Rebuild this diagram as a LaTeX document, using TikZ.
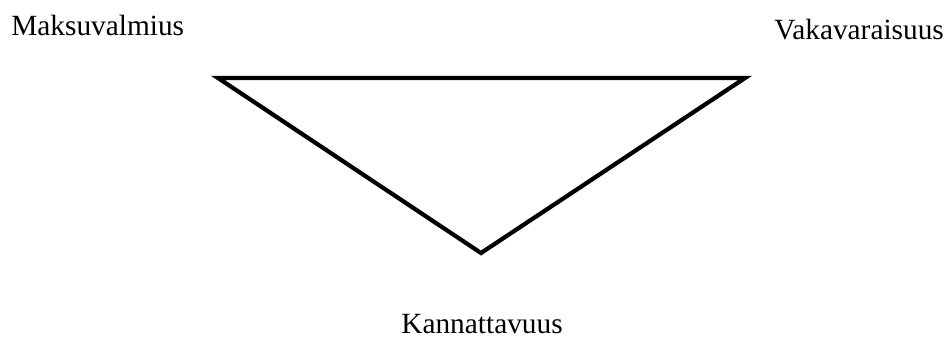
\documentclass[tikz,border=0pt]{standalone}
\usepackage{fontspec}
\setmainfont{Liberation Serif}
\usetikzlibrary{positioning}

\begin{document}
\begin{tikzpicture}[
    x=0.02cm, y=-0.02cm,
    label/.style={inner sep=0pt, anchor=base west, font=\fontsize{16.7}{20}\selectfont},
    side/.style={line width=2.4pt, line join=miter},
  ]
    \useasboundingbox (0,0) rectangle (952,338);

    %% -- corners of the triangle -------------------------------
    \coordinate (lft) at (218,78);
    \coordinate (rgt) at (745,78);
    \coordinate (bot) at (481,253);

    %% -- labels ------------------------------------------------
    \node[label] (maks) at (11,35)  {Maksuvalmius};
    \node[label] (vaka) at (774,39) {Vakavaraisuus};
    \node[label] (kann) at (401,333) {Kannattavuus};

    %% -- triangle ----------------------------------------------
    \draw[side] (lft) -- (rgt) -- (bot) -- cycle;

  \end{tikzpicture}
\end{document}
